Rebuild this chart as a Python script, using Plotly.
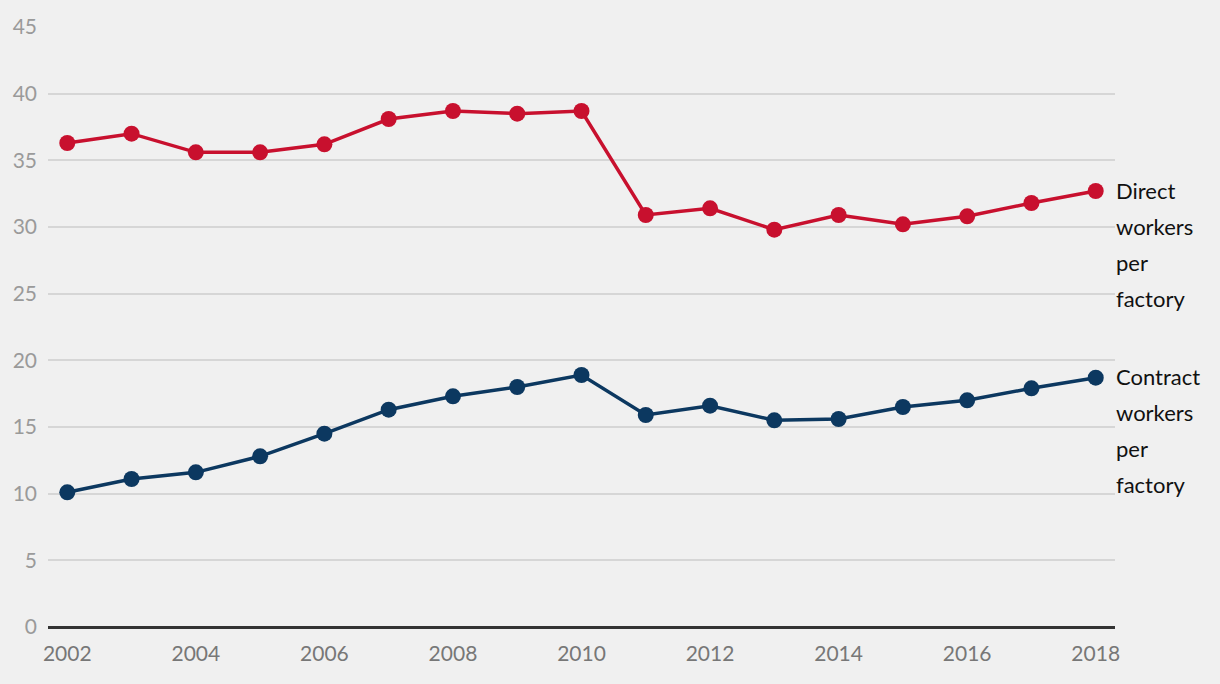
import plotly.graph_objects as go

years = list(range(2002, 2019))
direct = [36.3, 37.0, 35.6, 35.6, 36.2, 38.1, 38.7, 38.5, 38.7, 30.9, 31.4, 29.8, 30.9, 30.2, 30.8, 31.8, 32.7]
contract = [10.1, 11.1, 11.6, 12.8, 14.5, 16.3, 17.3, 18.0, 18.9, 15.9, 16.6, 15.5, 15.6, 16.5, 17.0, 17.9, 18.7]
y_ticks = [0, 5, 10, 15, 20, 25, 30, 35, 40, 45]
x_ticks = list(range(2002, 2019, 2))

red = "#C8102E"
blue = "#0C3860"
font_family = "Source Sans Pro, Lato, Noto Sans, sans-serif"

fig = go.Figure()
fig.add_trace(go.Scatter(x=years, y=direct, mode="lines+markers",
                         line=dict(color=red, width=3.5),
                         marker=dict(color=red, size=16), showlegend=False))
fig.add_trace(go.Scatter(x=years, y=contract, mode="lines+markers",
                         line=dict(color=blue, width=3.5),
                         marker=dict(color=blue, size=16), showlegend=False))

def add_label(lines, yval):
    for i, t in enumerate(lines):
        fig.add_annotation(x=1, xref="paper", xanchor="left", y=yval, yref="y",
                           yanchor="middle", yshift=-36 * i + 1, xshift=-1,
                           text=t, showarrow=False,
                           font=dict(family=font_family, size=22, color="#111111"))

add_label(["Direct", "workers", "per", "factory"], direct[-1])
add_label(["Contract", "workers", "per", "factory"], contract[-1])

fig.update_layout(
    width=1220, height=684,
    paper_bgcolor="#F0F0F0", plot_bgcolor="#F0F0F0",
    margin=dict(l=48, r=105, t=27, b=57),
    font=dict(family=font_family),
    xaxis=dict(range=[2001.7, 2018.3], tickvals=x_ticks, showgrid=False,
               zeroline=False, showline=False, ticks="", ticklabelstandoff=12,
               tickfont=dict(size=21, color="#777777")),
    yaxis=dict(range=[0, 45], tickvals=y_ticks, showgrid=True,
               gridcolor="#D6D6D6", gridwidth=1.5, zeroline=True,
               zerolinecolor="#333333", zerolinewidth=2.5,
               ticks="", ticklabelstandoff=10, tickfont=dict(size=21, color="#9A9A9A")),
)

fig.write_html("out.html", config={"displayModeBar": False},
               post_script="document.body.style.margin='0';document.body.style.overflow='hidden';document.body.style.background='#F0F0F0';")
